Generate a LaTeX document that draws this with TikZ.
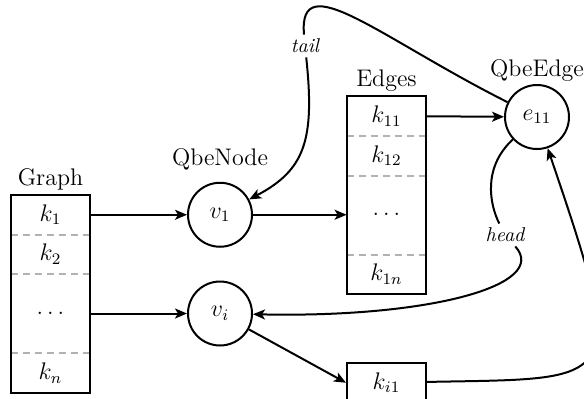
\documentclass[tikz,border=0pt]{standalone}
\usetikzlibrary{arrows.meta}
\begin{document}
\begin{tikzpicture}[x=0.5pt,y=-0.5pt,
  font=\fontsize{12}{14.4}\selectfont,
  row/.style={minimum width=39.5pt, minimum height=19.75pt, inner sep=0pt},
  dblrow/.style={row, minimum height=39.5pt},
  divider/.style={draw=black!30, line width=1pt, dash pattern=on 3.5pt off 2.5pt},
  boxline/.style={draw, line width=1pt},
  vert/.style={circle, draw, line width=1pt, minimum size=32pt, inner sep=0pt},
  conn/.style={line width=1pt},
  arr/.style={conn, -{Stealth[length=6pt,width=5pt,inset=1.5pt]}},
  title/.style={anchor=base, inner sep=0pt},
  edgelab/.style={font=\fontsize{10}{12}\selectfont\itshape, inner sep=2pt}]
\useasboundingbox (0,0) rectangle (584,398);
\clip (0,0) rectangle (584,398);

% Graph
\node[row] (g1) at (50.5,214.75) {$k_1$};
\node[row] (g2) at (50.5,254.25) {$k_2$};
\node[dblrow] (gd) at (50.5,313.5) {$\dots$};
\node[row] (gn) at (50.5,373) {$k_n$};
\draw[divider] (g1.south west) -- (g1.south east);
\draw[divider] (g2.south west) -- (g2.south east);
\draw[divider] (gd.south west) -- (gd.south east);
\draw[boxline] (g1.north west) rectangle (gn.south east);
\node[title] (gt) at (50.5,185) {Graph};

% Edges
\node[row] (e1) at (386.5,116) {$k_{11}$};
\node[row] (e2) at (386.5,155.5) {$k_{12}$};
\node[dblrow] (ed) at (386.5,214.75) {$\dots$};
\node[row] (en) at (386.5,274.25) {$k_{1n}$};
\draw[divider] (e1.south west) -- (e1.south east);
\draw[divider] (e2.south west) -- (e2.south east);
\draw[divider] (ed.south west) -- (ed.south east);
\draw[boxline] (e1.north west) rectangle (en.south east);
\node[title] (et) at (386.5,86) {Edges};

% k_i1
\node[row, boxline] (ki1) at (386.5,382.75) {$k_{i1}$};

% vertices
\node[vert] (v1) at (220,214.75) {$v_1$};
\node[vert] (vi) at (220,313.5) {$v_i$};
\node[title] (qn) at (220,165) {QbeNode};
\node[vert] (e11) at (537,117) {$e_{11}$};
\node[title] (qe) at (537,76) {QbeEdge};

% labels on curves
\node[edgelab] (tail) at (305,46) {tail};
\node[edgelab] (head) at (505,235) {head};

% connectors
\draw[arr] (g1) -- (v1);
\draw[arr] (gd) -- (vi);
\draw[arr] (v1) -- (ed);
\draw[arr] (e1) -- (e11);
\draw[arr] (vi) -- (ki1.west);
\draw[conn] (e11) .. controls (380,38) and (298,-35) .. (tail);
\draw[arr] (tail) .. controls (315,140) and (305,170) .. (v1);
\draw[conn] (e11) .. controls (482,168) and (490,205) .. (head);
\draw[arr] (head) .. controls (550,285) and (430,318) .. (vi);
\draw[arr] (ki1) .. controls (620,378) and (630,390) .. (e11);
\end{tikzpicture}
\end{document}
